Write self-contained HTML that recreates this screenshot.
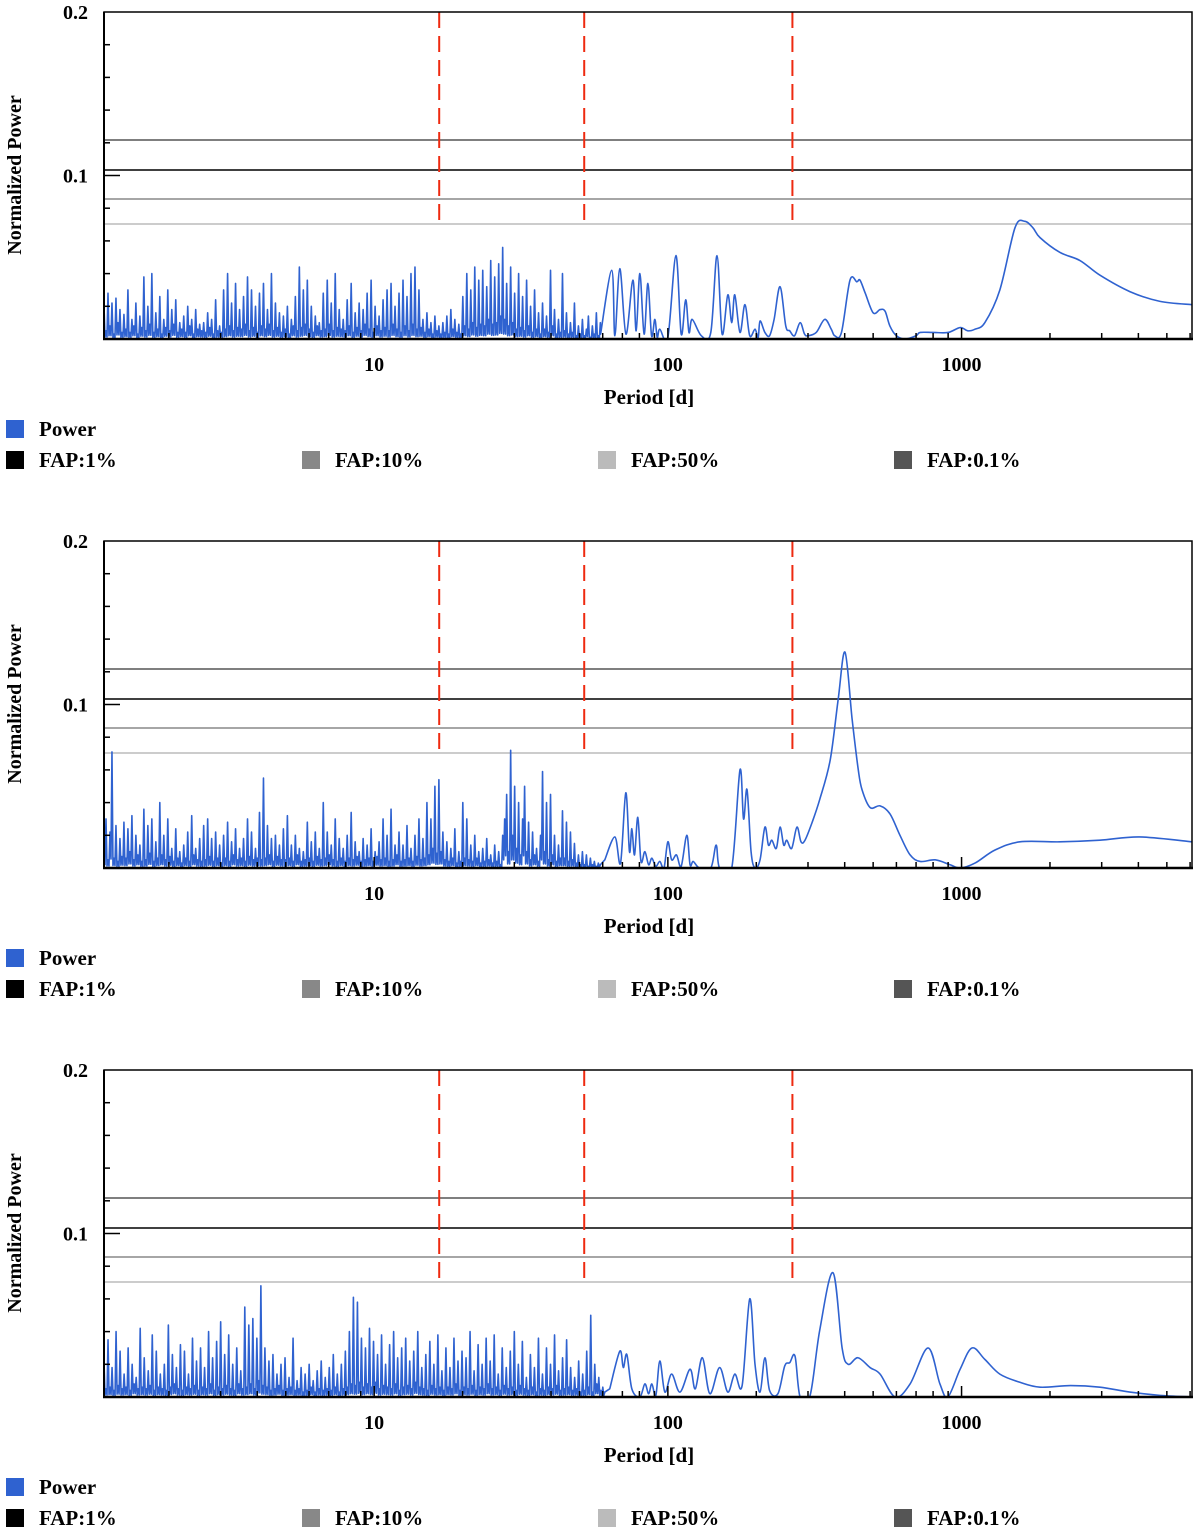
<!DOCTYPE html>
<html><head><meta charset="utf-8"><style>
body{margin:0;background:#fff;}
svg text{font-family:"Liberation Serif",serif;font-weight:bold;}
</style></head><body>
<svg id="chart" width="1200" height="1534" viewBox="0 0 1200 1534" xmlns="http://www.w3.org/2000/svg"></svg>
<script>
// ---- data ----
const yTickLabels = ["0.1", "0.2"];
const xTickLabels = ["10", "100", "1000"];
const xMajorTicks = [10, 100, 1000];
const fapLevels = [0.1217, 0.1034, 0.0856, 0.0703];
const fapNames = ["FAP:0.1%", "FAP:1%", "FAP:10%", "FAP:50%"];
const fapColors = ["#555555", "#000000", "#888888", "#bbbbbb"];
const markerPeriods = [16.65, 51.9, 265.5];
const legendLabels = ["Power", "FAP:1%", "FAP:10%", "FAP:50%", "FAP:0.1%"];
const noiseStart = 1.2025;
const noiseEnd1 = 58.9, noiseEnd2 = 58.9, noiseEnd3 = 61;
// noise powers in thousandths
const noise1 = [20,5,28,8,22,3,25,10,18,4,15,6,30,4,12,8,22,3,14,7,38,5,20,9,40,4,16,6,26,3,12,7,30,5,18,9,24,4,10,6,14,4,20,8,12,3,18,6,9,5,10,4,16,7,12,3,24,5,8,4,30,6,40,8,22,5,34,7,18,6,26,9,38,5,30,7,20,4,28,8,34,6,18,9,40,5,22,7,16,4,14,6,20,3,12,8,26,5,44,7,30,9,36,6,20,4,14,8,10,5,28,6,36,9,22,5,40,7,18,6,12,5,24,8,34,4,16,7,22,5,18,9,28,6,36,4,20,8,14,5,24,7,30,5,34,9,20,6,28,4,36,8,26,5,40,9,44,6,30,7,12,4,16,6,10,3,14,5,8,3,10,4,14,3,18,6,12,4,9,3,26,8,40,6,30,10,44,7,36,9,42,8,32,12,48,9,38,10,46,14,56,12,34,8,44,10,28,6,40,7,26,5,36,8,20,4,30,6,16,3,22,6,14,4,42,8,18,3,12,4,40,5,16,3,10,4,22,2,8,3,12,2,6,14,1,8,3,16,2,10];
const noise2 = [8,30,5,22,71,6,26,4,18,7,28,6,24,10,32,5,20,8,14,4,36,5,26,9,30,4,16,6,40,8,20,5,30,7,12,4,24,6,10,3,14,6,22,4,32,8,12,5,18,4,26,5,30,7,18,4,22,6,14,3,20,6,28,4,16,8,24,5,12,6,18,4,30,7,22,5,12,6,34,5,55,6,26,8,18,4,20,7,14,5,24,5,32,6,14,4,20,8,12,4,10,5,28,6,16,4,22,7,12,5,40,6,22,8,14,5,30,4,18,6,12,4,20,6,34,5,16,7,10,4,18,5,14,6,24,4,10,7,16,5,30,6,20,4,36,5,14,8,22,4,14,5,26,6,12,4,20,7,30,5,18,6,40,8,30,12,50,9,54,10,22,5,16,4,12,6,24,3,10,4,40,6,30,5,14,4,20,6,10,3,12,4,18,5,8,3,14,4,10,2,20,30,45,10,72,20,50,12,40,8,30,50,10,28,5,22,8,12,4,20,59,10,40,5,45,8,20,4,14,6,35,6,28,4,22,5,15,3,8,2,10,2,8,1,6,2,4,1,3,2];
const noise3 = [22,5,35,6,18,4,40,7,28,5,14,6,30,4,20,8,12,5,42,6,24,5,16,7,38,4,28,6,14,5,20,4,44,6,26,8,18,5,32,4,28,6,14,5,36,7,22,4,30,6,18,5,40,8,24,4,34,6,46,5,26,7,38,5,20,4,30,8,16,5,55,6,44,8,48,5,36,10,68,7,30,6,22,4,26,5,14,7,20,4,24,5,12,6,36,4,10,5,18,3,14,4,20,6,10,3,16,5,22,4,12,5,18,4,26,6,14,3,20,5,28,6,40,8,61,7,58,9,36,6,30,8,42,6,34,9,26,5,38,7,20,6,32,5,40,8,24,4,30,6,36,7,22,5,28,9,40,6,18,5,26,4,34,7,20,5,38,6,16,4,30,6,18,5,36,8,22,4,28,6,24,5,40,7,16,4,32,6,20,5,36,8,22,5,38,6,14,4,30,7,18,5,28,6,40,4,20,7,34,5,12,4,26,6,18,3,36,5,14,4,30,6,20,5,38,7,16,4,24,5,35,6,18,4,12,5,22,3,14,4,28,6,50,3,20,8,12,4,6,3];
// smooth part: periods (d) and powers (thousandths)
const per1 = [59,64.4,66,68.6,72,76,78,80.3,83,85.5,88,90.3,92,93.9,100,106.5,111,115,118,121,130,140,147,153,160,165,169,176,183,190,198,203,206,214,222,230,241,252,260,270,282,292,300,320,342,360,370,390,417,440,451,470,500,528,549,570,600,642,700,723,800,900,989,1050,1111,1200,1350,1520,1640,1750,1850,2160,2530,2960,3740,4740,6090];
const pow1 = [3,42,2,43,3,36,5,40,3,34,2,12,1,6,1,51,3,24,4,12,2,4,51,3,27,10,27,4,21,2,6,1,11,4,2,12,32,8,5,2,10,3,2,4,12,6,2,4,36,35,36,28,16,18,17,8,2,0,2,4,4,4,7,5,6,10,30,68,72,68,62,53,48,39,29,23,21];
const per2 = [61,66,69,71.9,74,75.4,77,79,81,83.5,86,88.2,91,93.9,97,100,103,107,111,116,119,122,128,140,146,150,165,176,181,186,192,198,206,214,220,226,234,241,248,254,264,275,284,293,310,329,357,380,401,424,445,458,488,528,571,617,668,723,813,914,989,1111,1300,1580,2160,2960,4040,6090];
const pow2 = [5,19,3,46,10,24,8,31,4,10,2,6,1,4,0,16,5,8,1,20,2,4,0,0,14,0,0,60,30,48,10,0,5,25,14,17,12,25,14,17,12,25,16,17,28,42,66,103,132,91,60,48,37,38,33,20,8,4,5,2,0,3,11,16,16,17,19,16];
const per3 = [63.4,68.6,70.5,72.5,75.4,80.3,83.5,86,88.2,91,93.9,97.7,103,110,119,124,131,139,150,160,169,179,190,198,206,214,222,237,250,260,271,282,305,329,365,392,411,444,488,528,594,668,769,844,898,989,1085,1200,1350,1580,1850,2350,2960,3740,4740,6090];
const pow3 = [5,28,18,26,5,0,8,2,8,1,22,3,14,3,17,5,24,2,18,3,14,7,60,20,3,24,4,2,19,21,25,0,1,41,76,30,20,24,18,14,0,8,30,8,0,17,30,23,14,9,6,7,6,3,1,0];

// ---- geometry ----
const svg = document.getElementById('chart');
const NS = 'http://www.w3.org/2000/svg';
const X0 = 104, X1 = 1192, PMIN = 1.2025, PMAX = 6090;
function xs(p){ return X0 + (Math.log10(p)-Math.log10(PMIN))/(Math.log10(PMAX)-Math.log10(PMIN))*(X1-X0); }
function mk(tag, attrs, parent){ const e=document.createElementNS(NS,tag); for(const k in attrs) e.setAttribute(k,attrs[k]); (parent||svg).appendChild(e); return e; }

function catmull(pts){
  let d = 'M'+pts[0][0].toFixed(2)+','+pts[0][1].toFixed(2);
  for(let i=0;i<pts.length-1;i++){
    const p0=pts[Math.max(0,i-1)], p1=pts[i], p2=pts[i+1], p3=pts[Math.min(pts.length-1,i+2)];
    const c1=[p1[0]+(p2[0]-p0[0])/6, p1[1]+(p2[1]-p0[1])/6];
    const c2=[p2[0]-(p3[0]-p1[0])/6, p2[1]-(p3[1]-p1[1])/6];
    d+=' C'+c1[0].toFixed(2)+','+c1[1].toFixed(2)+' '+c2[0].toFixed(2)+','+c2[1].toFixed(2)+' '+p2[0].toFixed(2)+','+p2[1].toFixed(2);
  }
  return d;
}

function panel(k, noise, noiseEnd, per, pow){
  const off = k*529;
  const top = 12+off, bot = 339+off;
  const ys = v => bot - v/0.2*(bot-top);
  const g = mk('g',{});
  
  
  const cid='clip'+k;
  const cp = mk('clipPath',{id:cid},g); mk('rect',{x:X0,y:top,width:X1-X0,height:bot-top},cp);

  fapLevels.forEach((lv,i)=>{
    const l = mk('line',{x1:X0,x2:X1,y1:ys(lv),y2:ys(lv),stroke:fapColors[i],'stroke-width':1.5},g);
    
    
  });
  markerPeriods.forEach(p=>{
    const l = mk('line',{x1:xs(p),x2:xs(p),y1:top,y2:ys(fapLevels[3]),stroke:'#ee2a10','stroke-width':2,'stroke-dasharray':'16,8'},g);
    
    
  });
  // noise part: each value a spike, with dips between consecutive values
  const lp0=Math.log10(noiseStart), lp1=Math.log10(noiseEnd);
  const pts=[];
  const n=noise.length;
  for(let i=0;i<n;i++){
    const p=Math.pow(10, lp0+(lp1-lp0)*i/(n-1));
    pts.push([xs(p), ys(noise[i]/1000)]);
    if(i<n-1){
      const pm=Math.pow(10, lp0+(lp1-lp0)*(i+0.5)/(n-1));
      const lo=Math.min(noise[i],noise[i+1])*0.25;
      pts.push([xs(pm), ys(lo/1000)]);
    }
  }
  let d='M'+pts.map(q=>q[0].toFixed(2)+','+q[1].toFixed(2)).join(' L');
  const sp = per.map((p,i)=>[xs(p), ys(pow[i]/1000)]);
  d += ' L' + catmull(sp).slice(1);
  const path = mk('path',{d:d,fill:'none',stroke:'#2f62d0','stroke-width':1.6,'stroke-linejoin':'round','clip-path':'url(#'+cid+')'},g);
  
  

  const fr = mk('rect',{x:X0,y:top,width:X1-X0,height:bot-top,fill:'none',stroke:'#000','stroke-width':1.5},g);
  
  
  mk('line',{x1:X0-1,x2:X1+1,y1:bot,y2:bot,stroke:'#000','stroke-width':2.5},g);
  mk('line',{x1:X0,x2:X0,y1:top,y2:bot,stroke:'#000','stroke-width':2},g);
  for(let t=1;t<=9;t++){
    const v=t*0.02; const major=(t===5);
    mk('line',{x1:X0,x2:X0+(major?16:6),y1:ys(v),y2:ys(v),stroke:'#000','stroke-width':1.5},g);
  }
  yTickLabels.forEach((s,i)=>{
    const t = mk('text',{x:88,y:ys(parseFloat(s))+7,'text-anchor':'end','font-size':20},g);
    t.textContent=s;
    
    
  });
  for(let dec=1; dec<=1000; dec*=10){
    for(let m=1;m<=9;m++){
      const p=dec*m; if(p<PMIN||p>PMAX) continue;
      const major = xMajorTicks.indexOf(p)>=0;
      mk('line',{x1:xs(p),x2:xs(p),y1:bot,y2:bot-(major?11:6),stroke:'#000','stroke-width':1.5},g);
    }
  }
  xTickLabels.forEach((s,i)=>{
    const t = mk('text',{x:xs(xMajorTicks[i]),y:bot+32,'text-anchor':'middle','font-size':20},g);
    t.textContent=s;
    
    
  });
  const xt = mk('text',{x:649,y:bot+65,'text-anchor':'middle','font-size':21},g);
  xt.textContent='Period [d]';
  
  
  const yt = mk('text',{x:0,y:0,'text-anchor':'middle','font-size':20,transform:'translate(21,'+(175+off)+') rotate(-90)'},g);
  yt.textContent='Normalized Power';
  
  

  const legColors=['#2f62d0','#000000','#888888','#bbbbbb','#555555'];
  const legX=[6,6,302,598,894], legY=[429+off,460+off,460+off,460+off,460+off];
  legendLabels.forEach((s,i)=>{
    const lg = mk('g',{},g);
    
    
    mk('rect',{x:legX[i],y:legY[i]-9,width:18,height:18,fill:legColors[i]},lg);
    const t=mk('text',{x:legX[i]+33,y:legY[i]+7,'font-size':21},lg);
    t.textContent=s;
  });
}
panel(0, noise1, noiseEnd1, per1, pow1);
panel(1, noise2, noiseEnd2, per2, pow2);
panel(2, noise3, noiseEnd3, per3, pow3);
</script>
</body></html>
